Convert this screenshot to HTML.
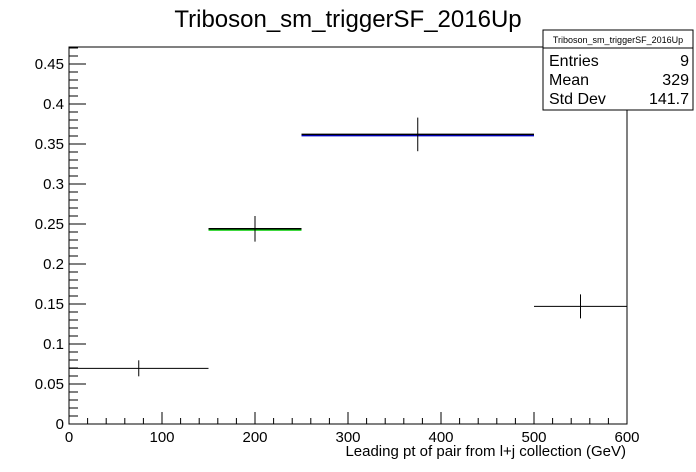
<!DOCTYPE html>
<html><head><meta charset="utf-8"><style>
body{margin:0;background:#fff;}
svg{display:block;font-family:"Liberation Sans",Arial,sans-serif;}
</style></head><body>
<svg id="c" width="696" height="472">
<text x="348" y="27" font-size="24" text-anchor="middle">Triboson_sm_triggerSF_2016Up</text>
<rect x="69" y="47" width="558" height="377" fill="none" stroke="#000" stroke-width="1"/>
<g id="axes"></g>
<g id="marks"></g>
<text x="626" y="456" font-size="15" text-anchor="end">Leading pt of pair from l+j collection (GeV)</text>
<g>
<rect x="543" y="30" width="150" height="80" fill="#fff" stroke="#000"/>
<line x1="543" y1="48" x2="693" y2="48" stroke="#000"/>
<text x="618" y="43" font-size="9" text-anchor="middle">Triboson_sm_triggerSF_2016Up</text>
<text x="549" y="66" font-size="16">Entries</text><text x="689" y="66" font-size="16" text-anchor="end">9</text>
<text x="549" y="85" font-size="16">Mean</text><text x="689" y="85" font-size="16" text-anchor="end">329</text>
<text x="549" y="104" font-size="16">Std Dev</text><text x="689" y="104" font-size="16" text-anchor="end">141.7</text>
</g>
</svg>
<script>
const binLow=[0,150,250,500];
const binHigh=[150,250,500,600];
const binValues=[0.0696,0.244,0.362,0.147];
const binErrors=[0.010,0.016,0.021,0.015];
const binColors=["none","#00cc00","#0000cc","none"];
const xTicks=[0,100,200,300,400,500,600];
const yTicks=[0,0.05,0.1,0.15,0.2,0.25,0.3,0.35,0.4,0.45];
const yTickLabels=["0","0.05","0.1","0.15","0.2","0.25","0.3","0.35","0.4","0.45"];
const X0=69,X1=627,Y0=424,Y1=47,xMax=600,yMax=0.47125;
const sx=v=>X0+(X1-X0)*v/xMax, sy=v=>Y0-(Y0-Y1)*v/yMax;
const NS="http://www.w3.org/2000/svg";
function mk(t,a,p){const e=document.createElementNS(NS,t);for(const k in a)e.setAttribute(k,a[k]);p.appendChild(e);return e;}
const ax=document.getElementById('axes'),mg=document.getElementById('marks');
for(let v=0;v<=xMax;v+=20){const major=v%100===0;const t=mk('line',{x1:sx(v),x2:sx(v),y1:Y0,y2:Y0-(major?12:6),stroke:'#000'},ax);

}
xTicks.forEach(v=>{const t=mk('text',{x:sx(v),y:Y0+18,'font-size':15,'text-anchor':'middle'},ax);t.textContent=v;

});
for(let i=0;i*0.01<=yMax;i++){const v=i*0.01;const major=i%5===0;const t=mk('line',{x1:X0,x2:X0+(major?17:9),y1:sy(v),y2:sy(v),stroke:'#000'},ax);

}
yTicks.forEach((v,i)=>{const t=mk('text',{x:X0-5,y:sy(v)+5,'font-size':15,'text-anchor':'end'},ax);t.textContent=yTickLabels[i];

});
binValues.forEach((v,i)=>{const g=mk('g',{},mg);


const y=sy(v),xa=sx(binLow[i]),xb=sx(binHigh[i]),xc=(xa+xb)/2;
if(binColors[i]!=="none")mk('line',{x1:xa,x2:xb,y1:y+1,y2:y+1,stroke:binColors[i],'stroke-width':2},g);
mk('line',{x1:xa,x2:xb,y1:y,y2:y,stroke:'#000','stroke-width':binColors[i]!=="none"?1.5:1},g);
mk('line',{x1:xc,x2:xc,y1:sy(v+binErrors[i]),y2:sy(v-binErrors[i]),stroke:'#000'},g);});
</script>
</body></html>
